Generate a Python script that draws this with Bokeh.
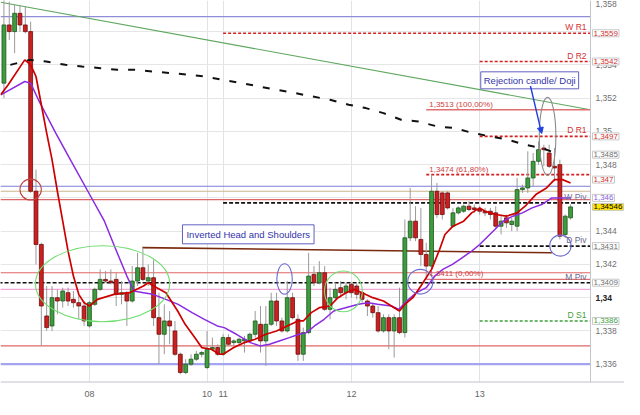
from bokeh.plotting import figure
from bokeh.models import Span, Label, Arrow, NormalHead, FixedTicker, Range1d, ColumnDataSource
from bokeh.embed import file_html
from bokeh.resources import INLINE

# ---------------- data (hourly candles, index 0 = first hour of day 08) ----------------
hours = list(range(-16, 91))
open_ = [1.3529, 1.3564, 1.3560, 1.3571, 1.3564, 1.3560, 1.3464, 1.3432, 1.3389, 1.3383,
         1.3400, 1.3398, 1.3403, 1.3399, 1.3397, 1.3395, 1.3383, 1.3396, 1.3405, 1.3411,
         1.3410, 1.3411, 1.3402, 1.3403, 1.3398, 1.3410, 1.3418, 1.3410, 1.3412, 1.3388,
         1.3378, 1.3386, 1.3380, 1.3366, 1.3355, 1.3360, 1.3363, 1.3366, 1.3358, 1.3369,
         1.3370, 1.3366, 1.3376, 1.3373, 1.3373, 1.3374, 1.3374, 1.3378, 1.3384, 1.3374,
         1.3384, 1.3398, 1.3386, 1.3380, 1.3400, 1.3387, 1.3366, 1.3379, 1.3414, 1.3409,
         1.3415, 1.3393, 1.3400, 1.3406, 1.3403, 1.3408, 1.3407, 1.3403, 1.3398, 1.3395,
         1.3391, 1.3380, 1.3388, 1.3380, 1.3388, 1.3379, 1.3436, 1.3446, 1.3435, 1.3426,
         1.3419, 1.3464, 1.3463, 1.3463, 1.3443, 1.3451, 1.3452, 1.3455, 1.3454, 1.3453,
         1.3452, 1.3452, 1.3451, 1.3443, 1.3448, 1.3444, 1.3443, 1.3465, 1.3466, 1.3472,
         1.3482, 1.3490, 1.3487, 1.3479, 1.3480, 1.3438, 1.3448]
high = [1.3580, 1.3578, 1.3576, 1.3576, 1.3575, 1.3566, 1.3477, 1.3433, 1.3407, 1.3407,
        1.3405, 1.3406, 1.3406, 1.3404, 1.3402, 1.3398, 1.3398, 1.3406, 1.3417, 1.3416,
        1.3417, 1.3415, 1.3410, 1.3404, 1.3419, 1.3427, 1.3430, 1.3420, 1.3423, 1.3403,
        1.3396, 1.3392, 1.3386, 1.3367, 1.3363, 1.3366, 1.3368, 1.3368, 1.3380, 1.3376,
        1.3372, 1.3378, 1.3378, 1.3375, 1.3376, 1.3377, 1.3379, 1.3392, 1.3395, 1.3395,
        1.3403, 1.3403, 1.3388, 1.3410, 1.3403, 1.3390, 1.3382, 1.3427, 1.3419, 1.3422,
        1.3419, 1.3406, 1.3409, 1.3410, 1.3409, 1.3409, 1.3409, 1.3404, 1.3399, 1.3397,
        1.3395, 1.3390, 1.3390, 1.3390, 1.3406, 1.3447, 1.3466, 1.3455, 1.3454, 1.3433,
        1.3474, 1.3469, 1.3464, 1.3464, 1.3454, 1.3455, 1.3456, 1.3458, 1.3456, 1.3455,
        1.3454, 1.3454, 1.3455, 1.3449, 1.3450, 1.3448, 1.3472, 1.3468, 1.3488, 1.3487,
        1.3494, 1.3492, 1.3492, 1.3490, 1.3483, 1.3450, 1.3456]
low = [1.3520, 1.3555, 1.3547, 1.3560, 1.3559, 1.3463, 1.3420, 1.3371, 1.3380, 1.3380,
       1.3390, 1.3394, 1.3395, 1.3394, 1.3387, 1.3383, 1.3382, 1.3395, 1.3404, 1.3409,
       1.3408, 1.3395, 1.3396, 1.3383, 1.3397, 1.3407, 1.3410, 1.3407, 1.3383, 1.3360,
       1.3366, 1.3372, 1.3365, 1.3354, 1.3354, 1.3359, 1.3362, 1.3364, 1.3357, 1.3368,
       1.3365, 1.3365, 1.3371, 1.3371, 1.3372, 1.3367, 1.3373, 1.3376, 1.3367, 1.3359,
       1.3383, 1.3383, 1.3379, 1.3379, 1.3387, 1.3362, 1.3362, 1.3378, 1.3407, 1.3408,
       1.3392, 1.3387, 1.3398, 1.3400, 1.3399, 1.3400, 1.3399, 1.3397, 1.3389, 1.3388,
       1.3379, 1.3379, 1.3369, 1.3364, 1.3378, 1.3376, 1.3434, 1.3434, 1.3419, 1.3411,
       1.3417, 1.3448, 1.3447, 1.3453, 1.3442, 1.3450, 1.3451, 1.3452, 1.3451, 1.3450,
       1.3449, 1.3447, 1.3442, 1.3438, 1.3442, 1.3440, 1.3440, 1.3463, 1.3463, 1.3467,
       1.3480, 1.3479, 1.3478, 1.3470, 1.3435, 1.3436, 1.3447]
close = [1.3564, 1.3560, 1.3571, 1.3564, 1.3560, 1.3464, 1.3432, 1.3395, 1.3382, 1.3400,
         1.3398, 1.3404, 1.3398, 1.3397, 1.3395, 1.3386, 1.3397, 1.3405, 1.3411, 1.3410,
         1.3409, 1.3402, 1.3403, 1.3398, 1.3410, 1.3418, 1.3411, 1.3412, 1.3388, 1.3378,
         1.3386, 1.3383, 1.3366, 1.3355, 1.3360, 1.3363, 1.3366, 1.3367, 1.3369, 1.3370,
         1.3366, 1.3376, 1.3372, 1.3374, 1.3375, 1.3375, 1.3378, 1.3386, 1.3374, 1.3384,
         1.3398, 1.3386, 1.3380, 1.3400, 1.3388, 1.3366, 1.3379, 1.3413, 1.3409, 1.3415,
         1.3393, 1.3400, 1.3405, 1.3403, 1.3407, 1.3403, 1.3402, 1.3399, 1.3395, 1.3391,
         1.3380, 1.3388, 1.3380, 1.3388, 1.3379, 1.3436, 1.3446, 1.3436, 1.3426, 1.3419,
         1.3464, 1.3450, 1.3450, 1.3454, 1.3451, 1.3454, 1.3455, 1.3453, 1.3453, 1.3452,
         1.3451, 1.3450, 1.3443, 1.3446, 1.3445, 1.3446, 1.3465, 1.3466, 1.3472, 1.3482,
         1.3489, 1.3489, 1.3479, 1.3478, 1.3437, 1.3449, 1.34546]

# red moving average
ema_t = [-16.6, -15.2, -12.1, -11, -10, -9, -8, -7, -6, -5, -4, -3, -2, -1, 0, 1.5, 4.6,
         7.5, 10.1, 11, 12, 14.3, 16.5, 17.9, 19.7, 21, 22.8, 24.3, 25, 27, 29, 31, 33, 35,
         37, 39, 40, 41.5, 43, 45, 46.5, 48, 49.5, 51, 53, 55, 57, 58, 59, 60.5, 62, 64,
         65.5, 66.5, 68, 70, 71.5, 73, 74, 76, 78, 80, 81.5, 83.5, 85.5, 87, 88.5, 90]
ema_v = [1.3522, 1.3528, 1.3543, 1.3540, 1.3533, 1.3516, 1.3499, 1.3483, 1.3464, 1.3446,
         1.3428, 1.3413, 1.3402, 1.3397, 1.3395, 1.3399, 1.3402, 1.3403, 1.3407, 1.3409,
         1.3407, 1.3403, 1.3392, 1.3384, 1.3376, 1.3370, 1.3369, 1.3366, 1.3366, 1.3370,
         1.3373, 1.3375, 1.3378, 1.3380, 1.3383, 1.3386, 1.3386, 1.3391, 1.3394, 1.3395,
         1.3400, 1.3403, 1.3405, 1.3403, 1.3400, 1.3398, 1.3394, 1.3392, 1.3396, 1.3400,
         1.3407, 1.3417, 1.3429, 1.3438, 1.3443, 1.3446, 1.3451, 1.3454, 1.3452, 1.3450,
         1.3449, 1.3451, 1.3455, 1.3462, 1.3466, 1.3471, 1.3471, 1.3469]

# purple moving average
sma_t = [-16.6, -12.1, -11, -9.4, -6.3, -3.4, -0.3, 2.8, 4.8, 7, 8.3, 10.1, 11.9, 14.3,
         16.6, 19.2, 21.5, 23.9, 25.2, 27.5, 30.1, 31.9, 33.7, 35.5, 37.4, 39.2, 40.6, 42.1,
         43.9, 45.7, 47.9, 50.3, 52.1, 53.9, 56.5, 57.9, 59.7, 61.2, 63, 64.6, 66.1, 67.9,
         69.7, 71.5, 73, 75.5, 77.4, 79.2, 81, 82.8, 84.6, 86.5, 88.3, 90.1]
sma_v = [1.3522, 1.3530, 1.3529, 1.3518, 1.3499, 1.3482, 1.3464, 1.3446, 1.3430, 1.3413,
         1.3404, 1.3403, 1.3402, 1.3399, 1.3396, 1.3391, 1.3387, 1.3383, 1.3382, 1.3378,
         1.3373, 1.3371, 1.3372, 1.3374, 1.3376, 1.3378, 1.3379, 1.3383, 1.3387, 1.3392,
         1.3394, 1.3396, 1.3397, 1.3396, 1.3395, 1.3393, 1.3399, 1.3403, 1.3406, 1.3413,
         1.3417, 1.3420, 1.3424, 1.3428, 1.3432, 1.3440, 1.3446, 1.3449, 1.3451, 1.3454,
         1.3456, 1.3460, 1.3460, 1.3460]

# long black dashed moving average
lma_t = [-14.8, -11.2, -8.1, -4.5, -1.4, 2.1, 5.2, 8.6, 11.9, 15.4, 18.6, 21.5, 25, 28.5,
         31.7, 35, 38.5, 41.7, 45, 48.5, 51.7, 55, 58.3, 61.5, 65, 68.3, 71.7, 75, 78.3,
         81.4, 84.6, 88.1]
lma_v = [1.3540, 1.3543, 1.3542, 1.3540, 1.3539, 1.3538, 1.3537, 1.3537, 1.3536, 1.3535,
         1.3534, 1.3533, 1.3531, 1.3529, 1.3527, 1.3525, 1.3523, 1.3521, 1.3519, 1.3516,
         1.3514, 1.3511, 1.3507, 1.3506, 1.3503, 1.3502, 1.3499, 1.3497, 1.3495, 1.3492,
         1.3490, 1.3486]

trend_t = [-16.6, 93.7]
trend_v = [1.35776, 1.35130]
neck_t = [9.9, 86.5]
neck_v = [1.34301, 1.34270]

day_ticks = [0, 22, 25, 49, 73]
day_labels = ["08", "10", "11", "12", "13"]
price_ticks = [1.336, 1.338, 1.340, 1.342, 1.344, 1.346, 1.348, 1.350, 1.352, 1.354, 1.356, 1.358]
price_tick_labels = ["1,336", "1,338", "1,34", "1,342", "1,344", "1,346", "1,348", "1,35",
                     "1,352", "1,354", "1,356", "1,358"]
# tick labels that stay hidden behind the boxed values
hidden_tick_labels = ["1,346", "1,356"]

pivot_names = ["W R1", "D R2", "D R1", "W Piv", "D Piv", "M Piv", "D S1"]
pivot_vals = [1.3559, 1.3542, 1.3497, 1.3457, 1.3431, 1.3409, 1.3386]
pivot_start = [25, 73, 73, 25, 73, -17, 73]

fib_vals = [1.3513, 1.3474, 1.3411]
fib_labels = ["1,3513 (100,00%)", "1,3474 (61,80%)", "1,3411 (0,00%)"]
fib_start = 63

hline_vals = [1.3569, 1.3467, 1.3464, 1.3459, 1.3415, 1.3405, 1.3371, 1.3360]

box_vals = [1.3559, 1.3542, 1.3497, 1.3486, 1.3471, 1.3460, 1.34546, 1.3431, 1.3409, 1.3386]
box_texts = ["1,3559", "1,3542", "1,3497", "1,3485", "1,347", "1,346", "1,34546",
             "1,3431", "1,3409", "1,3386"]

ell_t = [-11.0, 2.45, 36.5, 47.5, 61.9, 85.7, 88.1]
ell_v = [1.34650, 1.34084, 1.34113, 1.34038, 1.34096, 1.34970, 1.34313]
ell_w = [4.0, 25.1, 2.9, 7.1, 4.7, 3.1, 4.0]
ell_h = [0.00126, 0.00457, 0.00183, 0.00246, 0.00149, 0.00469, 0.00126]

# ---------------- layout ----------------
FONT = "Liberation Sans"
x_lo, x_plot_hi = -16.64, 93.73      # candle area
x_hi = 100.09                         # includes the price-scale column (~34 px)
y_lo, y_hi = 1.33490, 1.35787

p = figure(width=624, height=399, x_range=Range1d(x_lo, x_hi), y_range=Range1d(y_lo, y_hi),
           y_axis_location=None, toolbar_location=None, output_backend="svg",
           min_border_left=0, min_border_top=0, min_border_right=0, min_border_bottom=13)
p.outline_line_color = None
p.background_fill_color = "white"

p.xaxis.ticker = FixedTicker(ticks=day_ticks)
p.xaxis.major_label_overrides = {v: s for v, s in zip(day_ticks, day_labels)}
p.xaxis.major_label_text_font = FONT
p.xaxis.major_label_text_font_size = "9px"
p.xaxis.major_label_text_color = "#666666"
p.xaxis.major_label_standoff = 2
p.xaxis.major_tick_line_color = None
p.xaxis.minor_tick_line_color = None
p.xaxis.axis_line_color = None

p.xgrid.ticker = FixedTicker(ticks=day_ticks)
p.xgrid.grid_line_color = "#e2e2ea"
p.ygrid.ticker = FixedTicker(ticks=price_ticks)
p.ygrid.grid_line_color = "#e6e6e6"

# full-width horizontal levels
hline_colors = ["#8e8ed8", "#7c7cd4", "#ccb48c", "#e06666", "#e06666", "#f2a8da", "#e06666", "#a4a4f0"]
hline_widths = [1.2, 1.2, 1.2, 1.2, 1.2, 1.2, 1.2, 2.2]
for v, c, w in zip(hline_vals, hline_colors, hline_widths):
    p.add_layout(Span(location=v, dimension="width", line_color=c, line_width=w, level="underlay"))

# green trend line and neckline
p.line(trend_t, trend_v, line_color="#5ea85e", line_width=1.1)
p.line(neck_t, neck_v, line_color="#7a2a0e", line_width=1.6)

# fibonacci levels
fib_colors = ["#e07070", "#d42020", "#e07070"]
fib_dash = ["solid", "3 2", "solid"]
fib_width = [1.3, 1.8, 1.3]
for v, c, d, w in zip(fib_vals, fib_colors, fib_dash, fib_width):
    p.ray(x=[fib_start], y=[v], length=0, angle=0, line_color=c, line_dash=d, line_width=w)

# pivot levels
piv_colors = ["#d42020", "#d42020", "#d42020", "#111111", "#111111", "#111111", "#3ea03e"]
piv_dash = ["3 2", "3 2", "3 2", "4 2", "4 2", "4 2", "3 2"]
for v, s, c, d in zip(pivot_vals, pivot_start, piv_colors, piv_dash):
    p.ray(x=[s], y=[v], length=0, angle=0, line_color=c, line_dash=d, line_width=1.6)

# candles
up = [c >= o for o, c in zip(open_, close)]
src = ColumnDataSource(dict(
    t=hours, o=open_, h=high, l=low, c=close,
    top=[max(o, c) for o, c in zip(open_, close)],
    bot=[min(o, c) for o, c in zip(open_, close)],
    fill=["#3d9c3d" if u else "#cc2020" for u in up],
    edge=["#1d561d" if u else "#6e0c0c" for u in up],
))
p.segment(x0="t", y0="h", x1="t", y1="l", source=src, line_color="#9a9a9a", line_width=1)
p.vbar(x="t", width=0.72, top="top", bottom="bot", source=src,
       fill_color="fill", line_color="edge", line_width=0.8)

# moving averages
p.line(lma_t, lma_v, line_color="#111111", line_width=2, line_dash="7 10")
p.line(sma_t, sma_v, line_color="#8a2be2", line_width=1.5)
p.line(ema_t, ema_v, line_color="#cc0000", line_width=1.7)

# ellipses
ell_colors = ["#c04444", "#70dd70", "#6c6cd0", "#70dd70", "#6c6cd0", "#8a8a8a", "#6c6cd0"]
p.ellipse(x=ell_t, y=ell_v, width=ell_w, height=ell_h, fill_alpha=0,
          line_color=ell_colors, line_width=1.1)

# price-scale column: white panel with a separating line and bottom border
p.quad(left=[x_plot_hi], right=[x_hi], bottom=[y_lo], top=[y_hi],
       fill_color="white", line_color=None)
p.add_layout(Span(location=x_plot_hi, dimension="height", line_color="#c4c4cc", line_width=1))
p.add_layout(Span(location=y_lo, dimension="width", line_color="#c4c4cc", line_width=2))

# texts inside the plot
piv_label_colors = ["#d03030", "#d03030", "#d03030", "#7070a0", "#6a6a8a", "#6a6a8a", "#3ea03e"]
for name, v, c in zip(pivot_names, pivot_vals, piv_label_colors):
    p.add_layout(Label(x=x_plot_hi, y=v, x_offset=-4, y_offset=1, text=name, text_align="right",
                       text_baseline="bottom", text_font=FONT, text_font_size="8.5px",
                       text_color=c))
for name, v in zip(fib_labels, fib_vals):
    p.add_layout(Label(x=fib_start, y=v, x_offset=3, y_offset=1, text=name, text_align="left",
                       text_baseline="bottom", text_font=FONT, text_font_size="8px",
                       text_color="#d04040"))

p.add_layout(Label(x=17.4, y=1.34381, text="Inverted Head and Shoulders", text_align="left",
                   text_baseline="middle", text_font=FONT, text_font_size="9.5px",
                   text_color="#3434a8", background_fill_color="white",
                   border_line_color="#6060c0", padding=4))
p.add_layout(Label(x=73.2, y=1.35307, text="Rejection candle/ Doji", text_align="left",
                   text_baseline="middle", text_font=FONT, text_font_size="9.5px",
                   text_color="#3434a8", background_fill_color="white",
                   border_line_color="#6060c0", padding=3))
p.add_layout(Arrow(end=NormalHead(size=6, fill_color="#2040e0", line_color="#2040e0"),
                   x_start=82.5, y_start=1.35273, x_end=84.6, y_end=1.34987,
                   line_color="#2040e0", line_width=1.4))

# price scale tick labels (the top one sits at the very top edge, as in the reference)
for v, s in zip(price_ticks, price_tick_labels):
    if s in hidden_tick_labels:
        continue
    at_top = v > y_hi - 0.0004
    p.add_layout(Label(x=x_plot_hi, y=min(v, y_hi), x_offset=5, text=s, text_align="left",
                       text_baseline="top" if at_top else "middle",
                       text_font=FONT, text_font_size="8.5px",
                       text_color="#222222" if s == "1,34" else "#707070",
                       text_font_style="bold" if s == "1,34" else "normal"))

# boxed values on the price scale
box_colors = ["#d03030", "#d03030", "#d03030", "#707070", "#d03030", "#8a5ae0", "#000000",
              "#707070", "#707070", "#3ea03e"]
box_fills = ["white"] * 6 + ["#ffe400"] + ["white"] * 3
for v, s, c, f in zip(box_vals, box_texts, box_colors, box_fills):
    p.add_layout(Label(x=x_plot_hi, y=v, x_offset=2, text=s, text_align="left",
                       text_baseline="middle", text_font=FONT, text_font_size="8px",
                       text_color=c, background_fill_color=f, border_line_color="#c8c8c8",
                       padding=1))

open("out.html", "w").write(file_html(p, INLINE))
